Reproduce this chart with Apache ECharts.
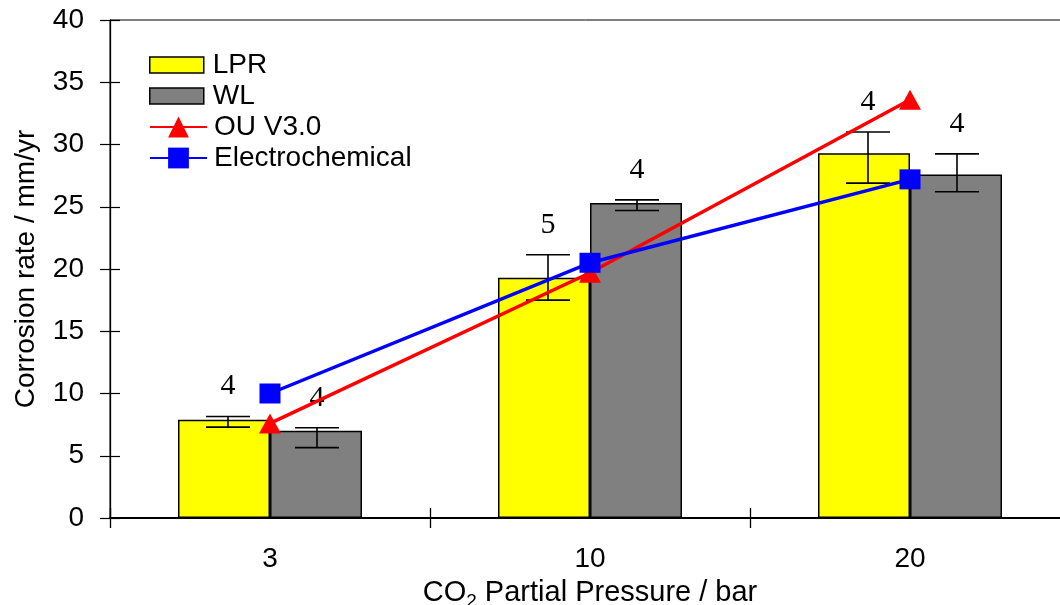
<!DOCTYPE html>
<html>
<head>
<meta charset="utf-8">
<script src="https://cdn.jsdelivr.net/npm/echarts@6/dist/echarts.min.js"></script>
<style>
html,body{margin:0;padding:0;background:#fff;overflow:hidden;}
#chart{width:1060px;height:605px;}
</style>
</head>
<body>
<div id="chart"></div>
<script>
// ---- data ----
const categories = ['3', '10', '20'];
const lprValues = [7.9, 19.3, 29.3];
const wlValues = [7.0, 25.3, 27.6];
const lprErrLow = [7.3, 17.5, 26.9];
const lprErrHigh = [8.15, 21.15, 31.0];
const wlErrLow = [5.65, 24.7, 26.2];
const wlErrHigh = [7.25, 25.55, 29.25];
const lprCounts = [4, 5, 4];
const wlCounts = [4, 4, 4];
const ouValues = [7.6, 19.7, 33.6];
const echemValues = [10.0, 20.5, 27.2];

// ---- styles ----
const SANS = '"Liberation Sans", Arial, sans-serif';
const SERIF = '"Liberation Serif", "Times New Roman", serif';
const BAR_W = 92;
const FS = 28;

function errorSeries(name, low, high, counts, side, shift) {
  return {
    type: 'custom',
    name: name,
    z: 5,
    silent: true,
    data: categories.map((c, i) => [i, low[i], high[i], counts[i]]),
    encode: { x: 0, y: [1, 2] },
    renderItem: function (params, api) {
      const i = api.value(0);
      const pLow = api.coord([i, api.value(1)]);
      const pHigh = api.coord([i, api.value(2)]);
      const x = pLow[0] + side * BAR_W / 2 + shift;
      const capHalf = 22;
      const st = { stroke: '#000', lineWidth: 1.6 };
      return {
        type: 'group',
        children: [
          { type: 'line', shape: { x1: x, y1: pLow[1], x2: x, y2: pHigh[1] }, style: st },
          { type: 'line', shape: { x1: x - capHalf, y1: pLow[1], x2: x + capHalf, y2: pLow[1] }, style: st },
          { type: 'line', shape: { x1: x - capHalf, y1: pHigh[1], x2: x + capHalf, y2: pHigh[1] }, style: st },
          { type: 'text', style: { text: String(api.value(3)), x: x, y: pHigh[1] - 30, align: 'center', verticalAlign: 'middle', font: '30px ' + SERIF, fill: '#000' } }
        ]
      };
    }
  };
}

const chart = echarts.init(document.getElementById('chart'), null, { renderer: 'canvas' });
chart.setOption({
  animation: false,
  backgroundColor: '#fff',
  textStyle: { fontFamily: SANS },
  grid: { left: 110, top: 20, width: 960, height: 498, outerBoundsMode: 'none', containLabel: false,
    show: true, borderColor: '#000', borderWidth: 1, backgroundColor: 'transparent' },
  legend: [
    {
      data: ['LPR', 'WL'], orient: 'vertical', left: 149, top: 51, padding: 0,
      itemWidth: 54, itemHeight: 16, itemGap: 3, icon: 'rect',
      itemStyle: { borderColor: '#000', borderWidth: 1.5 },
      textStyle: { fontSize: FS, lineHeight: 28, color: '#000', fontFamily: SANS, padding: [0, 0, 0, 4] }
    },
    {
      data: ['OU V3.0', 'Electrochemical'], orient: 'vertical', left: 149, top: 113, padding: 0,
      itemWidth: 57, itemHeight: 26, itemGap: 3,
      textStyle: { fontSize: FS, lineHeight: 28, color: '#000', fontFamily: SANS, padding: [0, 0, 0, 2] }
    }
  ],
  xAxis: [
    {
      type: 'category', data: categories, position: 'bottom',
      axisLine: { lineStyle: { color: '#000', width: 2 } },
      axisTick: { show: true, interval: 0, length: 10, lineStyle: { color: '#000', width: 1.3 } },
      axisLabel: { fontSize: FS, color: '#000', margin: 27, fontFamily: SANS },
      name: 'CO{sub|2} Partial Pressure / bar', nameLocation: 'middle', nameGap: 57,
      nameTextStyle: { fontSize: 29, color: '#000', fontFamily: SANS,
        rich: { sub: { fontSize: 19, color: '#000', fontFamily: SANS, padding: [17, 0, 0, 0] } } }
    },
    {
      type: 'category', data: categories, position: 'bottom',
      axisLine: { show: false },
      axisTick: { show: true, inside: true, interval: 0, length: 10, lineStyle: { color: '#000', width: 1.3 } },
      axisLabel: { show: false }
    }
  ],
  yAxis: [
    {
      type: 'value', min: 0, max: 40, interval: 5,
      axisLine: { show: true, lineStyle: { color: '#000', width: 1.3 } },
      axisTick: { show: true, length: 10, lineStyle: { color: '#000', width: 1.2 } },
      axisLabel: { fontSize: FS, color: '#000', margin: 26, fontFamily: SANS },
      splitLine: { show: false },
      name: 'Corrosion rate / mm/yr', nameLocation: 'middle', nameGap: 70,
      nameTextStyle: { fontSize: FS, color: '#000', fontFamily: SANS }
    },
    {
      type: 'value', min: 0, max: 40, interval: 5, position: 'left',
      axisLine: { show: false },
      axisTick: { show: true, inside: true, length: 10, lineStyle: { color: '#000', width: 1.2 } },
      axisLabel: { show: false },
      splitLine: { show: false }
    }
  ],
  series: [
    {
      name: 'LPR', type: 'bar', data: lprValues, barWidth: BAR_W, barGap: '0%', z: 2,
      itemStyle: { color: '#ffff00', borderColor: '#000', borderWidth: 1.5 }
    },
    {
      name: 'WL', type: 'bar', data: wlValues, barWidth: BAR_W, barGap: '0%', z: 2,
      itemStyle: { color: '#808080', borderColor: '#000', borderWidth: 1.5 }
    },
    errorSeries('LPR err', lprErrLow, lprErrHigh, lprCounts, -1, 4),
    errorSeries('WL err', wlErrLow, wlErrHigh, wlCounts, 1, 1),
    {
      name: 'OU V3.0', type: 'line', data: ouValues, z: 8,
      symbol: 'triangle', symbolSize: [22, 20],
      lineStyle: { color: '#ff0000', width: 3.5 },
      itemStyle: { color: '#ff0000' }
    },
    {
      name: 'Electrochemical', type: 'line', data: echemValues, z: 9,
      symbol: 'rect', symbolSize: [21, 20],
      lineStyle: { color: '#0000ff', width: 3.5 },
      itemStyle: { color: '#0000ff' }
    }
  ]
});
</script>
</body>
</html>
